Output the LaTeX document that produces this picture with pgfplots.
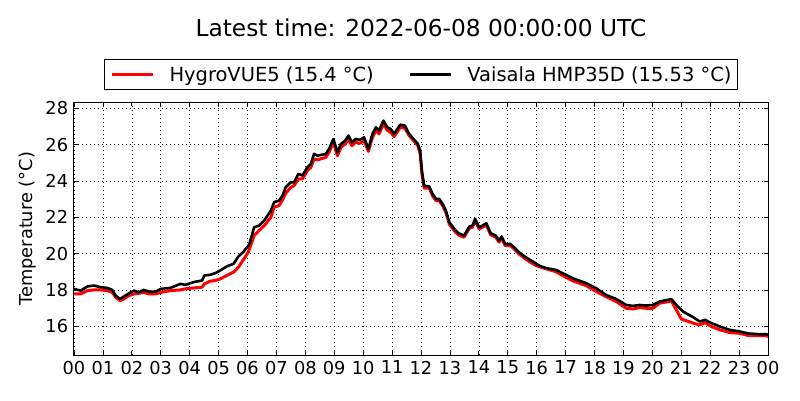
\documentclass[border=0pt]{standalone}
\usepackage{pgfplots}
\pgfplotsset{compat=1.18}
\usepackage{fontspec}
\setmainfont{DejaVu Sans}
\begin{document}
\begin{tikzpicture}
\useasboundingbox (0,0) rectangle (800pt,400pt);
\begin{axis}[
  at={(74pt,44.7pt)}, anchor=south west,
  scale only axis, width=694pt, height=253pt,
  xmin=0, xmax=24, ymin=14.4, ymax=28.33,
  xtick={0,...,24},
  xticklabels={00,01,02,03,04,05,06,07,08,09,10,11,12,13,14,15,16,17,18,19,20,21,22,23,00},
  ytick={16,18,20,22,24,26,28},
  yticklabels={16,18,20,22,24,26,28},
  tick align=inside, major tick length=4pt,
  tick style={black, line width=0.8pt},
  axis line style={black, line width=1pt},
  grid=major,
  major grid style={black, dash pattern=on 1pt off 3pt, line width=0.6pt},
  xticklabel style={font=\fontsize{17.8}{20}\selectfont, inner sep=0pt, anchor=north, yshift=-5.4pt},
  yticklabel style={font=\fontsize{17.8}{20}\selectfont, inner sep=0pt, anchor=east, xshift=-5.7pt},
  ylabel={Temperature (°C)},
  ylabel style={at={(axis description cs:-0.054,0.5)}, anchor=south, inner sep=0pt, font=\fontsize{17.8}{20}\selectfont},
  title={Latest time: 2022-06-08 00:00:00 UTC},
  title style={at={(axis description cs:0.5,1)}, anchor=base, yshift=60pt, inner sep=0pt, font=\fontsize{23.3}{27}\selectfont},
  legend columns=2,
  legend cell align=left,
  legend image code/.code={\draw[#1] (0pt,0pt) -- (41pt,0pt);},
  legend style={at={(axis description cs:0.5,1)}, anchor=south, yshift=12.3pt,
    draw=black, line width=0.8pt, inner xsep=6pt, inner ysep=7pt,
    font=\fontsize{19.45}{22}\selectfont,
    nodes={inner sep=0pt},
    /tikz/every odd column/.append style={column sep=15pt},
    /tikz/every even column/.append style={column sep=35pt}},
]
\addplot[red, line width=3pt, line join=round] coordinates {
(0.00,17.78) (0.23,17.78) (0.46,17.96) (0.69,18.00) (0.92,18.00) (1.15,17.96) (1.32,17.87)
(1.44,17.60) (1.59,17.41) (1.72,17.50) (1.90,17.69) (2.07,17.78) (2.24,17.81) (2.41,17.87)
(2.59,17.78) (2.82,17.78) (3.01,17.87) (3.33,17.96) (3.68,18.00) (3.85,18.06) (4.14,18.11)
(4.43,18.15) (4.51,18.33) (4.71,18.48) (4.89,18.52) (5.06,18.61) (5.29,18.80) (5.52,18.98)
(5.69,19.26) (5.86,19.67) (6.03,20.09) (6.23,20.99) (6.40,21.27) (6.58,21.54) (6.81,22.00)
(6.92,22.55) (7.09,22.64) (7.21,22.95) (7.32,23.32) (7.50,23.65) (7.61,23.74) (7.76,24.11)
(7.90,24.11) (8.07,24.57) (8.19,24.75) (8.30,25.21) (8.42,25.16) (8.71,25.30) (8.82,25.58)
(8.97,26.13) (9.11,25.39) (9.23,25.85) (9.38,26.04) (9.49,26.31) (9.61,25.94) (9.74,26.13)
(9.88,26.07) (10.03,26.22) (10.18,25.63) (10.32,26.40) (10.44,26.77) (10.55,26.59) (10.70,27.14)
(10.84,26.77) (10.95,26.68) (11.07,26.44) (11.28,26.95) (11.44,26.91) (11.59,26.50) (11.74,26.22)
(11.89,25.95) (11.97,25.50) (12.03,24.40) (12.11,23.60) (12.29,23.60) (12.40,23.18) (12.52,22.92)
(12.63,22.92) (12.75,22.63) (12.86,22.27) (12.98,21.62) (13.15,21.26) (13.30,21.02) (13.49,20.90)
(13.67,21.40) (13.78,21.45) (13.87,21.82) (14.01,21.36) (14.13,21.45) (14.26,21.58) (14.41,21.03)
(14.59,20.90) (14.70,20.63) (14.79,20.85) (14.91,20.44) (15.08,20.44) (15.22,20.26) (15.39,19.98)
(15.62,19.70) (15.75,19.56) (15.98,19.34) (16.27,19.19) (16.67,19.00) (16.90,18.79) (17.25,18.50)
(17.71,18.24) (18.06,17.91) (18.40,17.63) (18.75,17.36) (19.10,16.99) (19.33,16.95) (19.56,17.03)
(19.79,16.99) (20.02,16.99) (20.25,17.27) (20.66,17.39) (20.83,16.90) (21.00,16.40) (21.41,16.17)
(21.64,16.07) (21.82,16.20) (22.05,15.98) (22.34,15.80) (22.68,15.65) (23.03,15.61) (23.32,15.49)
(23.72,15.49) (23.95,15.49) (24.00,15.40)
};
\addlegendentry{HygroVUE5 (15.4 °C)}
\addplot[black, line width=2.6pt, line join=round] coordinates {
(0.00,18.06) (0.23,17.96) (0.46,18.19) (0.69,18.24) (0.92,18.15) (1.15,18.11) (1.32,18.00)
(1.44,17.69) (1.59,17.50) (1.72,17.63) (1.90,17.81) (2.07,17.96) (2.24,17.87) (2.41,18.00)
(2.59,17.91) (2.82,17.91) (3.01,18.06) (3.33,18.11) (3.68,18.33) (3.85,18.28) (4.14,18.43)
(4.43,18.52) (4.51,18.80) (4.71,18.83) (4.89,18.93) (5.06,19.07) (5.29,19.30) (5.52,19.44)
(5.69,19.85) (5.86,20.10) (6.06,20.50) (6.23,21.45) (6.40,21.54) (6.58,21.82) (6.81,22.37)
(6.92,22.83) (7.09,22.92) (7.21,23.19) (7.32,23.65) (7.50,23.93) (7.61,23.93) (7.76,24.39)
(7.90,24.30) (8.07,24.75) (8.19,24.94) (8.30,25.49) (8.42,25.39) (8.71,25.49) (8.82,25.76)
(8.97,26.31) (9.11,25.58) (9.23,26.04) (9.38,26.22) (9.49,26.50) (9.61,26.13) (9.74,26.31)
(9.88,26.26) (10.03,26.40) (10.18,25.76) (10.32,26.59) (10.44,26.95) (10.55,26.77) (10.70,27.32)
(10.84,26.95) (10.95,26.86) (11.07,26.59) (11.28,27.10) (11.44,27.05) (11.59,26.59) (11.74,26.31)
(11.89,26.04) (11.97,25.67) (12.03,24.57) (12.11,23.74) (12.29,23.69) (12.40,23.28) (12.52,23.01)
(12.63,23.01) (12.75,22.73) (12.86,22.37) (12.98,21.72) (13.15,21.36) (13.30,21.12) (13.49,20.99)
(13.67,21.49) (13.78,21.54) (13.87,21.91) (14.01,21.45) (14.13,21.54) (14.26,21.67) (14.41,21.12)
(14.59,20.99) (14.70,20.72) (14.79,20.94) (14.91,20.53) (15.08,20.53) (15.22,20.35) (15.39,20.07)
(15.62,19.80) (15.85,19.58) (16.08,19.34) (16.31,19.21) (16.67,19.10) (16.90,18.92) (17.25,18.64)
(17.71,18.37) (18.06,18.09) (18.40,17.72) (18.75,17.50) (19.10,17.17) (19.33,17.12) (19.56,17.17)
(19.79,17.14) (20.02,17.17) (20.25,17.36) (20.66,17.49) (20.83,17.17) (21.06,16.81) (21.41,16.50)
(21.64,16.26) (21.82,16.35) (22.05,16.17) (22.34,15.98) (22.68,15.80) (23.03,15.71) (23.32,15.60)
(23.72,15.56) (23.95,15.56) (24.00,15.53)
};
\addlegendentry{Vaisala HMP35D (15.53 °C)}
\end{axis}
\end{tikzpicture}
\end{document}
